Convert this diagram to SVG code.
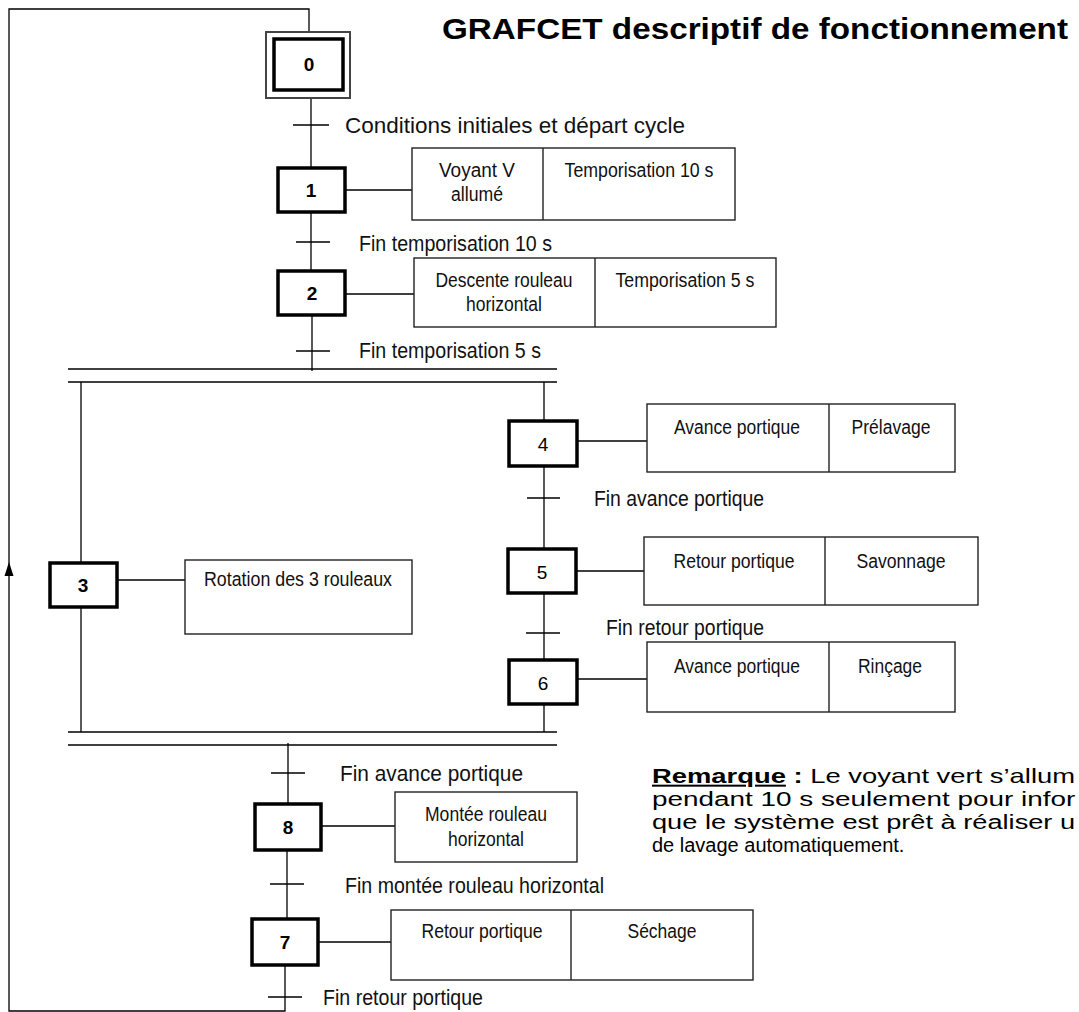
<svg xmlns="http://www.w3.org/2000/svg" width="1079" height="1012" viewBox="0 0 1079 1012">
<style>
  .ln { stroke:#000; stroke-width:1.3; fill:none; }
  .bar { stroke:#000; stroke-width:1.6; fill:none; }
  .tick { stroke:#000; stroke-width:1.3; }
  .step { fill:#fff; stroke:#000; stroke-width:3.5; }
  .act { fill:#fff; stroke:#222; stroke-width:1.4; }
  .t { font-family:"Liberation Sans",Arial,sans-serif; font-size:22px; fill:#111; }
  .a { font-family:"Liberation Sans",Arial,sans-serif; font-size:20px; fill:#111; text-anchor:middle; }
  .num { font-family:"Liberation Sans",Arial,sans-serif; font-size:19px; text-anchor:middle; fill:#000; }
  .b { font-weight:bold; }
  .title { font-family:"Liberation Sans",Arial,sans-serif; font-size:30px; font-weight:bold; fill:#000; }
  .rem { font-family:"Liberation Sans",Arial,sans-serif; font-size:20px; fill:#000; }
</style>
<rect width="1079" height="1012" fill="#fff"/>
<text class="title" x="442" y="39" textLength="626" lengthAdjust="spacingAndGlyphs">GRAFCET descriptif de fonctionnement</text>

<g id="connectors">
  <path class="ln" d="M309,32 V9 H9 V1011 H285 V965"/>
  <polygon points="9,562 4.5,576 13.5,576" fill="#000"/>
  <line class="ln" x1="311" y1="98" x2="311" y2="168"/>
  <line class="tick" x1="293" y1="125" x2="329" y2="125"/>
  <line class="ln" x1="311" y1="212" x2="311" y2="271"/>
  <line class="tick" x1="296" y1="242" x2="330" y2="242"/>
  <line class="ln" x1="312" y1="315" x2="312" y2="371"/>
  <line class="tick" x1="296" y1="351" x2="330" y2="351"/>
  <line class="bar" x1="68" y1="369" x2="557" y2="369"/>
  <line class="bar" x1="68" y1="382" x2="557" y2="382"/>
  <line class="ln" x1="81" y1="382" x2="81" y2="563"/>
  <line class="ln" x1="81" y1="607" x2="81" y2="732"/>
  <line class="ln" x1="544" y1="382" x2="544" y2="421"/>
  <line class="ln" x1="544" y1="466" x2="544" y2="549"/>
  <line class="tick" x1="527" y1="498" x2="560" y2="498"/>
  <line class="ln" x1="544" y1="593" x2="544" y2="660"/>
  <line class="tick" x1="526" y1="633" x2="560" y2="633"/>
  <line class="ln" x1="544" y1="704" x2="544" y2="732"/>
  <line class="bar" x1="68" y1="732" x2="557" y2="732"/>
  <line class="bar" x1="68" y1="745" x2="557" y2="745"/>
  <line class="ln" x1="288" y1="743" x2="288" y2="804"/>
  <line class="tick" x1="271" y1="773" x2="305" y2="773"/>
  <line class="ln" x1="287" y1="850" x2="287" y2="919"/>
  <line class="tick" x1="270" y1="884" x2="304" y2="884"/>
  <line class="tick" x1="268" y1="997" x2="302" y2="997"/>
  <line class="ln" x1="345" y1="190" x2="412" y2="190"/>
  <line class="ln" x1="345" y1="294" x2="414" y2="294"/>
  <line class="ln" x1="117" y1="580" x2="185" y2="580"/>
  <line class="ln" x1="577" y1="441" x2="647" y2="441"/>
  <line class="ln" x1="576" y1="571" x2="644" y2="571"/>
  <line class="ln" x1="577" y1="679" x2="647" y2="679"/>
  <line class="ln" x1="321" y1="826" x2="395" y2="826"/>
  <line class="ln" x1="318" y1="942" x2="391" y2="942"/>
</g>

<g id="trans-labels">
  <text class="t" x="345" y="133" textLength="340" lengthAdjust="spacingAndGlyphs">Conditions  initiales  et  départ  cycle</text>
  <text class="t" x="359" y="251" textLength="193" lengthAdjust="spacingAndGlyphs">Fin temporisation 10 s</text>
  <text class="t" x="359" y="358" textLength="182" lengthAdjust="spacingAndGlyphs">Fin temporisation 5 s</text>
  <text class="t" x="594" y="506" textLength="170" lengthAdjust="spacingAndGlyphs">Fin avance portique</text>
  <text class="t" x="606" y="635" textLength="158" lengthAdjust="spacingAndGlyphs">Fin retour portique</text>
  <text class="t" x="340" y="781" textLength="183" lengthAdjust="spacingAndGlyphs">Fin avance  portique</text>
  <text class="t" x="345" y="893" textLength="259" lengthAdjust="spacingAndGlyphs">Fin montée rouleau horizontal</text>
  <text class="t" x="323" y="1005" textLength="160" lengthAdjust="spacingAndGlyphs">Fin retour portique</text>
</g>

<g id="step0">
  <rect x="266" y="32" width="84" height="66" fill="#fff" stroke="#444" stroke-width="2"/>
  <rect class="step" x="274" y="39" width="69" height="51"/>
  <text class="num b" x="309" y="71">0</text>
</g>
<g id="step1">
  <rect class="step" x="278" y="168" width="67" height="44"/>
  <text class="num b" x="311" y="197">1</text>
</g>
<g id="action1">
  <rect class="act" x="412" y="148" width="323" height="72"/>
  <line class="act" x1="543" y1="148" x2="543" y2="220"/>
  <text class="a" x="477" y="177" textLength="76" lengthAdjust="spacingAndGlyphs">Voyant  V</text>
  <text class="a" x="477" y="201" textLength="52" lengthAdjust="spacingAndGlyphs">allumé</text>
  <text class="a" x="639" y="177" textLength="149" lengthAdjust="spacingAndGlyphs">Temporisation 10 s</text>
</g>
<g id="step2">
  <rect class="step" x="278" y="271" width="67" height="44"/>
  <text class="num b" x="312" y="300">2</text>
</g>
<g id="action2">
  <rect class="act" x="414" y="258" width="362" height="69"/>
  <line class="act" x1="595" y1="258" x2="595" y2="327"/>
  <text class="a" x="504" y="287" textLength="137" lengthAdjust="spacingAndGlyphs">Descente rouleau</text>
  <text class="a" x="504" y="311" textLength="76" lengthAdjust="spacingAndGlyphs">horizontal</text>
  <text class="a" x="685" y="287" textLength="139" lengthAdjust="spacingAndGlyphs">Temporisation 5 s</text>
</g>
<g id="step3">
  <rect class="step" x="50" y="563" width="67" height="44"/>
  <text class="num b" x="83" y="592">3</text>
</g>
<g id="action3">
  <rect class="act" x="185" y="560" width="227" height="74"/>
  <text class="a" x="298" y="586" textLength="188" lengthAdjust="spacingAndGlyphs">Rotation des 3 rouleaux</text>
</g>
<g id="step4">
  <rect class="step" x="509" y="421" width="68" height="45"/>
  <text class="num" x="543" y="451">4</text>
</g>
<g id="action4">
  <rect class="act" x="647" y="404" width="308" height="68"/>
  <line class="act" x1="829" y1="404" x2="829" y2="472"/>
  <text class="a" x="737" y="434" textLength="126" lengthAdjust="spacingAndGlyphs">Avance portique</text>
  <text class="a" x="891" y="434" textLength="79" lengthAdjust="spacingAndGlyphs">Prélavage</text>
</g>
<g id="step5">
  <rect class="step" x="508" y="549" width="68" height="44"/>
  <text class="num" x="542" y="579">5</text>
</g>
<g id="action5">
  <rect class="act" x="644" y="537" width="334" height="68"/>
  <line class="act" x1="825" y1="537" x2="825" y2="605"/>
  <text class="a" x="734" y="568" textLength="121" lengthAdjust="spacingAndGlyphs">Retour portique</text>
  <text class="a" x="901" y="568" textLength="89" lengthAdjust="spacingAndGlyphs">Savonnage</text>
</g>
<g id="step6">
  <rect class="step" x="509" y="660" width="68" height="44"/>
  <text class="num" x="543" y="690">6</text>
</g>
<g id="action6">
  <rect class="act" x="647" y="642" width="308" height="70"/>
  <line class="act" x1="829" y1="642" x2="829" y2="712"/>
  <text class="a" x="737" y="673" textLength="126" lengthAdjust="spacingAndGlyphs">Avance portique</text>
  <text class="a" x="890" y="673" textLength="64" lengthAdjust="spacingAndGlyphs">Rinçage</text>
</g>
<g id="step8">
  <rect class="step" x="255" y="804" width="66" height="46"/>
  <text class="num b" x="288" y="834">8</text>
</g>
<g id="action8">
  <rect class="act" x="395" y="792" width="182" height="70"/>
  <text class="a" x="486" y="821" textLength="122" lengthAdjust="spacingAndGlyphs">Montée rouleau</text>
  <text class="a" x="486" y="846" textLength="76" lengthAdjust="spacingAndGlyphs">horizontal</text>
</g>
<g id="step7">
  <rect class="step" x="252" y="919" width="66" height="46"/>
  <text class="num b" x="285" y="949">7</text>
</g>
<g id="action7">
  <rect class="act" x="391" y="910" width="362" height="70"/>
  <line class="act" x1="571" y1="910" x2="571" y2="980"/>
  <text class="a" x="482" y="938" textLength="121" lengthAdjust="spacingAndGlyphs">Retour portique</text>
  <text class="a" x="662" y="938" textLength="69" lengthAdjust="spacingAndGlyphs">Séchage</text>
</g>

<g id="remark">
  <g transform="translate(652,783) scale(1.37,1)">
    <text class="rem" x="0" y="0"><tspan font-weight="bold" text-decoration="underline">Remarque</tspan><tspan font-weight="bold"> :</tspan> Le voyant vert s’allum</text>
  </g>
  <g transform="translate(652,806) scale(1.395,1)">
    <text class="rem" x="0" y="0">pendant 10 s seulement pour infor</text>
  </g>
  <g transform="translate(652,829) scale(1.36,1)">
    <text class="rem" x="0" y="0">que le système est prêt à réaliser u</text>
  </g>
  <text class="rem" x="652" y="852">de lavage automatiquement.</text>
</g>
</svg>
